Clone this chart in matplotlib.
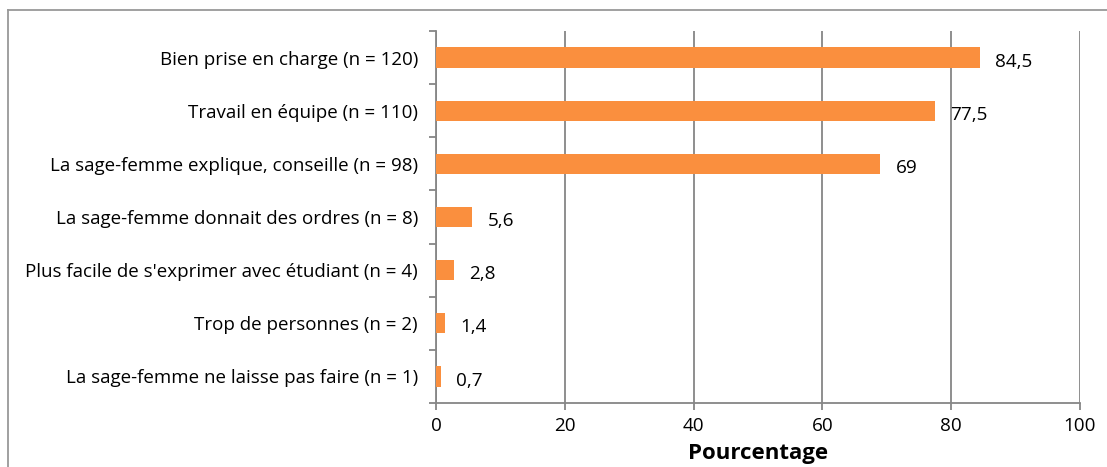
import matplotlib.pyplot as plt
import numpy as np
from matplotlib.lines import Line2D

# données
categories = [
    'Bien prise en charge (n = 120)',
    'Travail en équipe (n = 110)',
    'La sage-femme explique, conseille (n = 98)',
    'La sage-femme donnait des ordres (n = 8)',
    "Plus facile de s'exprimer avec étudiant (n = 4)",
    'Trop de personnes (n = 2)',
    'La sage-femme ne laisse pas faire (n = 1)',
]
values = [84.5, 77.5, 69, 5.6, 2.8, 1.4, 0.7]
value_labels = ['84,5', '77,5', '69', '5,6', '2,8', '1,4', '0,7']
xticks = [0, 20, 40, 60, 80, 100]

plt.rcParams['font.family'] = ['Open Sans', 'DejaVu Sans']

W, H = 1107, 467
fig = plt.figure(figsize=(W / 100, H / 100), dpi=100)
ax = fig.add_axes([436 / W, 1 - 403 / H, (1080 - 436) / W, (403 - 31) / H])

grey = '#868686'
bar_color = '#FA8F3E'
idx = np.arange(len(categories))

ax.barh(idx, values, height=0.38, color=bar_color, zorder=3)

for i, (v, lab) in enumerate(zip(values, value_labels)):
    ax.annotate(lab, (v, i), xytext=(11, -3), textcoords='offset points',
                ha='left', va='center', fontsize=13.6, color='black')

ax.set_xlim(0, 100)
ax.set_ylim(len(categories) - 0.5, -0.5)
ax.set_xticks(xticks)
ax.set_xticklabels([str(t) for t in xticks], fontsize=13.6)
ax.set_yticks(idx)
ax.set_yticklabels(categories, fontsize=13.5)
ax.tick_params(axis='y', length=0, pad=13)
ax.set_yticks(np.arange(-0.5, len(categories), 1), minor=True)
ax.tick_params(axis='y', which='minor', length=5, color=grey, width=1.3)
ax.tick_params(axis='x', length=5, color=grey, width=1.3, pad=5)

ax.grid(axis='x', color=grey, linewidth=1.3, zorder=0)
for s in ['top', 'right']:
    ax.spines[s].set_visible(False)
for s in ['left', 'bottom']:
    ax.spines[s].set_color(grey)
    ax.spines[s].set_linewidth(1.3)

ax.set_xlabel('Pourcentage', fontsize=16, fontweight='bold', labelpad=6)

# cadre du graphique
fig.add_artist(Line2D([8 / W, 8 / W], [0, 1 - 10 / H], color='#999999', lw=1.3))
fig.add_artist(Line2D([8 / W, 1], [1 - 10 / H, 1 - 10 / H], color='#999999', lw=1.3))

plt.savefig('out.png', dpi=100)
